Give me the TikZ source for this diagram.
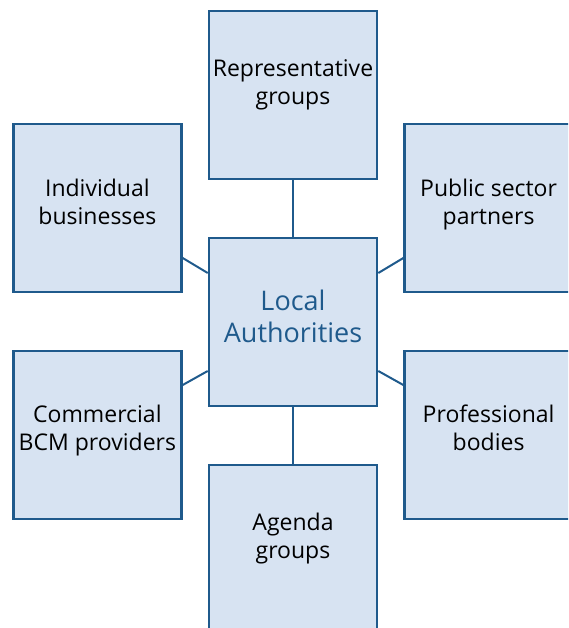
\documentclass[tikz,border=0pt]{standalone}
\usepackage{fontspec}
\setmainfont{Open Sans}
\usetikzlibrary{positioning}

\definecolor{boxblue}{HTML}{1F5A8C}
\definecolor{boxfill}{HTML}{D7E3F2}

\tikzset{
  box/.style={draw=boxblue, fill=boxfill, line width=2.6pt, minimum width=168pt, minimum height=168pt, inner sep=0pt},
  lbl/.style={align=center, inner sep=0pt, font=\fontsize{23}{28}\selectfont},
  link/.style={draw=boxblue, line width=2pt},
}

\begin{document}
\begin{tikzpicture}[x=1pt, y=-1pt]
  \useasboundingbox (0,0) rectangle (568,628);
  \begin{scope}
    \clip (0,0) rectangle (568,628);
    % boxes
    \node [box] (la) at (293,322) {};
    \node [box, above=56.5pt of la] (rg) {};
    \node [box, below=56.5pt of la] (ag) {};
    \node [box, left=25pt of la, yshift=114pt] (ib) {};
    \node [box, right=25pt of la, yshift=114pt] (ps) {};
    \node [box, left=25pt of la, yshift=-113pt] (cb) {};
    \node [box, right=25pt of la, yshift=-113pt] (pb) {};

    % links
    \draw [link] (rg) -- (la);
    \draw [link] (la) -- (ag);
    \draw [link] ([yshift=-50pt]ib.east) -- ([yshift=49pt]la.west);
    \draw [link] ([yshift=50pt]cb.east) -- ([yshift=-49pt]la.west);
    \draw [link] ([yshift=49pt]la.east) -- ([yshift=-50pt]ps.west);
    \draw [link] ([yshift=-49pt]la.east) -- ([yshift=50pt]pb.west);

    % texts
    \node [lbl, below=50pt of rg.north] (rg-t) {Representative\\groups};
    \node [lbl, below=56pt of ib.north] (ib-t) {Individual\\businesses};
    \node [lbl, below=56pt of ps.north] (ps-t) {Public sector\\partners};
    \node [lbl, below=55pt of cb.north] (cb-t) {Commercial\\BCM providers};
    \node [lbl, below=55pt of pb.north] (pb-t) {Professional\\bodies};
    \node [lbl, below=49pt of ag.north] (ag-t) {Agenda\\groups};
    \node [lbl, below=53pt of la.north, text=boxblue, font=\fontsize{27}{32}\selectfont] (la-t) {Local\\Authorities};
  \end{scope}
\end{tikzpicture}
\end{document}
